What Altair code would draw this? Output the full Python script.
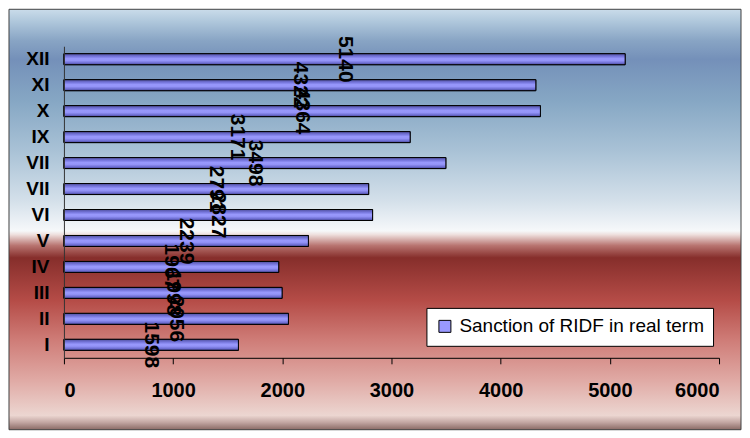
import altair as alt
import pandas as pd

# ---- data ----
periods = ["I", "II", "III", "IV", "V", "VI", "VII", "VII", "IX", "X", "XI", "XII"]
values = [1598, 2056, 1998, 1967, 2239, 2827, 2791, 3498, 3171, 4364, 4322, 5140]
series_name = "Sanction of RIDF in real term"
x_ticks = [0, 1000, 2000, 3000, 4000, 5000, 6000]

df = pd.DataFrame({
    "order": list(range(1, len(periods) + 1)),
    "period": periods,
    "value": values,
    "series": [series_name] * len(periods),
})

FONT = "Liberation Sans"
W, H = 656, 312

label_expr = "[" + ",".join(f"'{p}'" for p in periods) + "][toNumber(datum.value)-1]"

bar_grad = alt.LinearGradient(
    gradient="linear", x1=0, x2=0, y1=0, y2=1,
    stops=[
        alt.GradientStop(offset=0, color="#50509f"),
        alt.GradientStop(offset=0.25, color="#7676dc"),
        alt.GradientStop(offset=0.45, color="#9898fc"),
        alt.GradientStop(offset=0.62, color="#9494f8"),
        alt.GradientStop(offset=0.85, color="#6c6cd0"),
        alt.GradientStop(offset=1, color="#454590"),
    ],
)

bg_grad = alt.LinearGradient(
    gradient="linear", x1=0, x2=0, y1=0, y2=1,
    stops=[
        alt.GradientStop(offset=0.0, color="#cadcea"),
        alt.GradientStop(offset=0.028, color="#b0c8dc"),
        alt.GradientStop(offset=0.075, color="#88a4c4"),
        alt.GradientStop(offset=0.119, color="#7490b9"),
        alt.GradientStop(offset=0.218, color="#86a7c4"),
        alt.GradientStop(offset=0.337, color="#a9c2d6"),
        alt.GradientStop(offset=0.456, color="#d4e0ea"),
        alt.GradientStop(offset=0.527, color="#f6f8fa"),
        alt.GradientStop(offset=0.536, color="#eedfdd"),
        alt.GradientStop(offset=0.562, color="#b87470"),
        alt.GradientStop(offset=0.591, color="#862e2b"),
        alt.GradientStop(offset=0.693, color="#b54c47"),
        alt.GradientStop(offset=0.788, color="#cf7d78"),
        alt.GradientStop(offset=0.883, color="#e0aaa5"),
        alt.GradientStop(offset=0.966, color="#ecd6d1"),
        alt.GradientStop(offset=0.982, color="#c4a8a4"),
        alt.GradientStop(offset=1.0, color="#8a6a65"),
    ],
)

x_enc = alt.X(
    "value:Q",
    scale=alt.Scale(domain=[0, 6000], nice=False),
    axis=alt.Axis(
        values=x_ticks, title=None, grid=False, format="d",
        domainColor="black", tickColor="black", tickSize=6,
        labelFont=FONT, labelFontSize=20, labelFontWeight="bold",
        labelColor="black", labelPadding=17, zindex=1,
    ),
)
y_enc = alt.Y(
    "order:O",
    sort="descending",
    scale=alt.Scale(paddingInner=0.577, paddingOuter=0.2885),
    axis=alt.Axis(
        title=None, labelExpr=label_expr, ticks=False, tickSize=0,
        domainColor="#333333", labelFont=FONT, labelFontSize=19,
        labelFontWeight="bold", labelColor="black", labelPadding=15,
        zindex=1,
    ),
)

bg = alt.Chart(alt.Data(values=[{"k": 1}])).mark_rect(
    fill=bg_grad, stroke="#404040", strokeWidth=1
).encode(
    x=alt.value(-55), x2=alt.value(678), y=alt.value(-37), y2=alt.value(384)
)

base = alt.Chart(df)

bars_legend = base.mark_bar(stroke="black", strokeWidth=1).encode(
    x=x_enc,
    y=y_enc,
    color=alt.Color(
        "series:N",
        scale=alt.Scale(range=["#9999ff"]),
        legend=alt.Legend(
            title=None, orient="none", legendX=363, legendY=262,
            fillColor="white", strokeColor="black", padding=9,
            labelFont=FONT, labelFontSize=19, labelColor="black",
            labelLimit=400, labelOffset=5,
            symbolType="square", symbolSize=144,
            symbolStrokeColor="black", symbolStrokeWidth=1,
            zindex=1,
        ),
    ),
)

bars = base.mark_bar(fill=bar_grad, stroke="black", strokeWidth=1).encode(
    x=x_enc, y=y_enc
)

labels = base.transform_calculate(mid="datum.value / 2").mark_text(
    angle=90, align="center", baseline="middle", fontSize=21, font=FONT,
    fontWeight="bold", color="black"
).encode(
    x=alt.X("mid:Q"),
    y=y_enc,
    text=alt.Text("value:Q", format="d"),
)

chart = alt.layer(bg, bars_legend, bars, labels).properties(
    width=W, height=H, padding=0
).configure_view(strokeWidth=0)

chart.save("out.html", embed_options={"renderer": "svg", "actions": False})
